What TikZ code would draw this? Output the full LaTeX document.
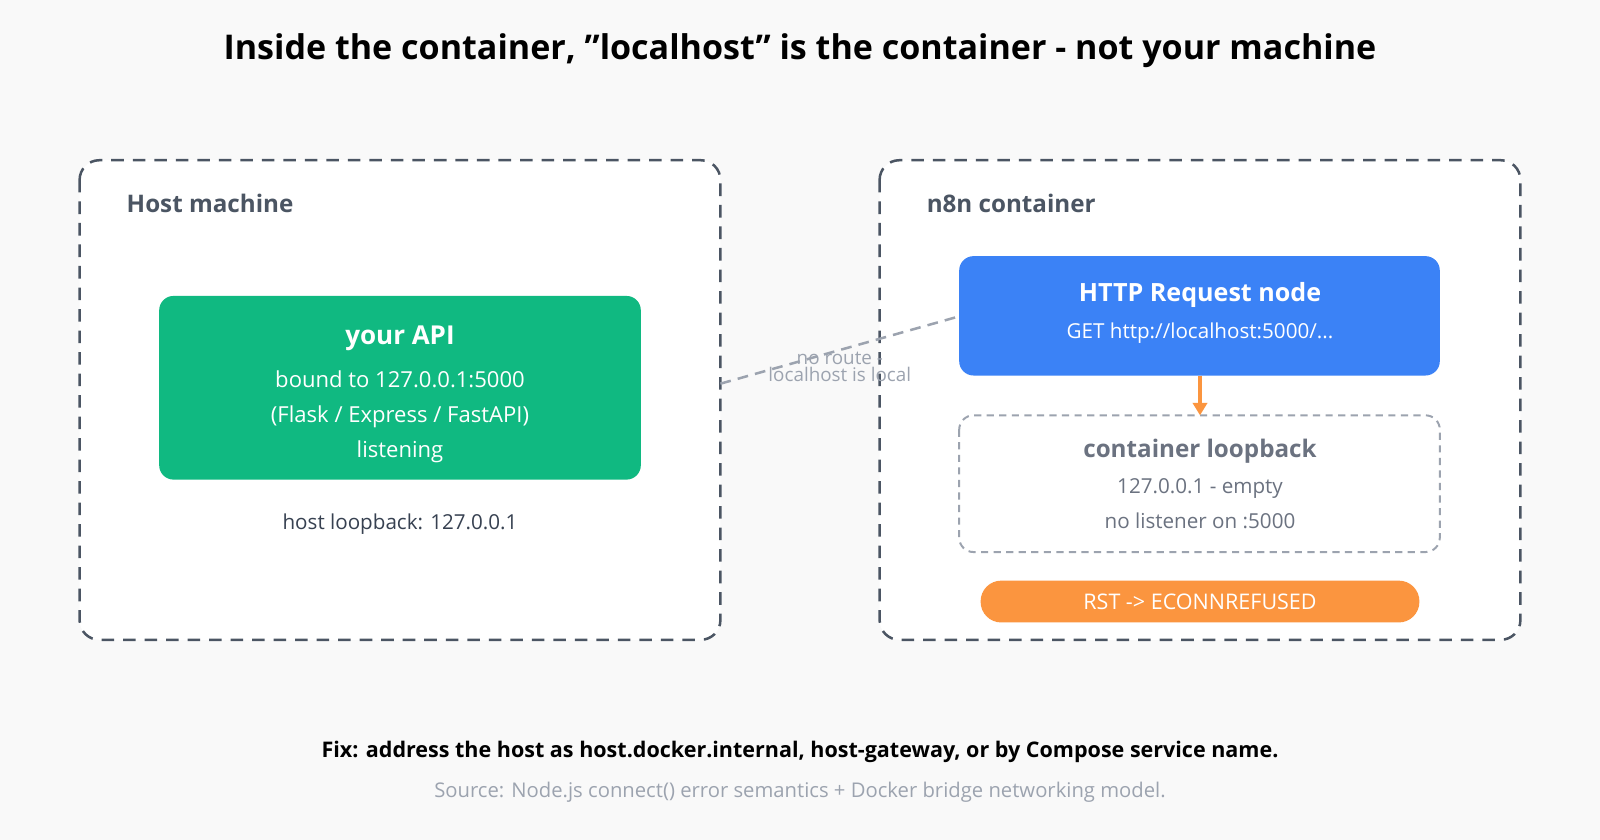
\documentclass[tikz,border=0pt]{standalone}
\usepackage{fontspec}
\setmainfont{Open Sans}
\usetikzlibrary{arrows.meta}
\definecolor{bg}{HTML}{F9F9F9}
\definecolor{slate}{HTML}{4B5563}
\definecolor{grn}{HTML}{10B981}
\definecolor{blu}{HTML}{3B82F6}
\definecolor{org}{HTML}{FB953F}
\definecolor{gry}{HTML}{9CA3AF}
\definecolor{dgry}{HTML}{6B7280}
\definecolor{txt}{HTML}{374151}
\newcommand{\fs}[1]{\fontsize{#1}{#1}\selectfont}
\begin{document}
\begin{tikzpicture}[x=0.02cm,y=-0.02cm,
  zone/.style={draw=slate,line width=1.4pt,dash pattern=on 7pt off 5pt,rounded corners=11pt,fill=white},
  zlabel/.style={anchor=west,text=slate,font=\fs{13.5}\bfseries},
  card/.style={rounded corners=8pt,draw=none},
  t/.style={text=white,font=\fs{12.3}}]
\useasboundingbox[fill=bg] (0,0) rectangle (1568,823);
\node[font=\fs{19}\bfseries] (title) at (784,50) {Inside the container, "localhost" is the container - not your machine};
% host
\path[zone] (78,157) rectangle (706,627);
\node[zlabel] (hl) at (118,199) {Host machine};
\path[card,fill=grn] (156,290) rectangle (628,470);
\coordinate (apiR) at (706,376);
\node[t,font=\fs{14.5}\bfseries] (api) at (392,332) {your API};
\node[t] (a1) at (392,372) {bound to 127.0.0.1:5000};
\node[t] (a2) at (392,408) {(Flask / Express / FastAPI)};
\node[t] (a3) at (392,443) {listening};
\node[text=txt,font=\fs{11.5}] (hlb) at (392,514) {host loopback: 127.0.0.1};
% container
\path[zone] (862,157) rectangle (1490,627);
\node[zlabel] (cl) at (902,199) {n8n container};
\node[card,fill=blu,minimum width=471\pgflinewidth,inner sep=0] (http) at (1175.5,309.5) {};
\path[card,fill=blu] (940,251) rectangle (1411,368);
\node[t,font=\fs{14}\bfseries] (h1) at (1176,289) {HTTP Request node};
\node[t,font=\fs{11.5}] (h2) at (1176,326) {GET http://localhost:5000/...};
\path[draw=gry,line width=1.1pt,dash pattern=on 4pt off 3pt,rounded corners=8pt,fill=white] (940,407) rectangle (1411,541);
\coordinate (httpB) at (1176,368);
\coordinate (lbT) at (1176,407);
\coordinate (httpL) at (940,310);
\node[text=dgry,font=\fs{13.5}\bfseries] (l1) at (1176,442) {container loopback};
\node[text=dgry,font=\fs{11.5}] (l2) at (1176,479) {127.0.0.1 - empty};
\node[text=dgry,font=\fs{11.5}] (l3) at (1176,510) {no listener on :5000};
\path[fill=org,rounded corners=11.5pt] (961,569) rectangle (1391,610);
\node[t,font=\fs{12}] (rst) at (1176,590) {RST -> ECONNREFUSED};
\draw[org,line width=1.7pt,-{Triangle[length=7pt,width=8pt]}] (httpB) -- (lbT);
\draw[gry,line width=1.4pt,dash pattern=on 6pt off 4pt] (apiR) -- (httpL);
\node[text=gry,font=\fs{10.5},align=center] (nr) at (823,360) {no route -\\[-1pt]localhost is local};
\node[font=\fs{12}\bfseries] (fix) at (784,737) {Fix: address the host as host.docker.internal, host-gateway, or by Compose service name.};
\node[text=gry,font=\fs{11.3}] (src) at (784,776) {Source: Node.js connect() error semantics + Docker bridge networking model.};
\end{tikzpicture}
\end{document}
